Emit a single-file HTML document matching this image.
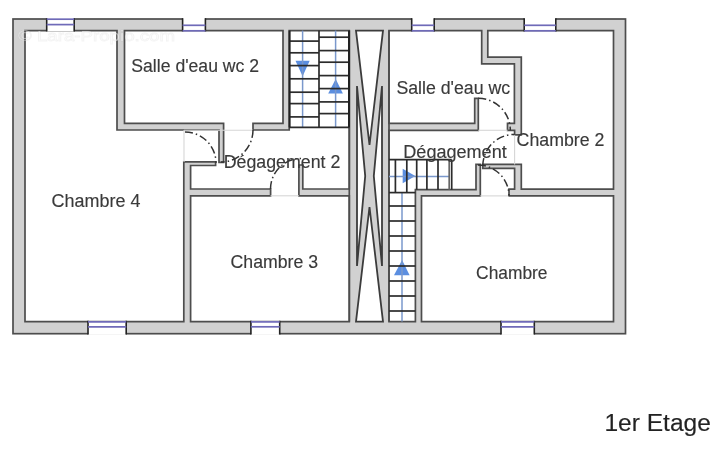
<!DOCTYPE html>
<html><head><meta charset="utf-8">
<style>
html,body{margin:0;padding:0;background:#fff;width:722px;height:450px;overflow:hidden}
svg{display:block;will-change:transform}
text{font-family:"Liberation Sans",sans-serif;fill:#3a3a3a;stroke:#3a3a3a;stroke-width:0.15}
</style></head><body>
<svg width="722" height="450" viewBox="0 0 722 450">
<rect x="0" y="0" width="722" height="450" fill="#fff"/>
<!-- outer wall -->
<rect x="13" y="19" width="612.5" height="314.7" fill="#d1d1d1" stroke="#4d4d4d" stroke-width="1.7"/>
<!-- left region -->
<path fill="#fff" stroke="#4d4d4d" stroke-width="1.7" stroke-linejoin="miter" d="
M25,30.6 L117,30.6 L117,130 L219,130 L219,162.4 L223.6,162.4 L223.6,123.3 L124.5,123.3 L124.5,30.6 L283,30.6 L283,123.3 L253,123.3 L253,130 L289.2,130 L289.2,30.6 L349.3,30.6
L349.3,189 L302.8,189 L302.8,165 L298.9,165 L298.9,195.8 L349.3,195.8 L349.3,321.6 L190.6,321.6 L190.6,195.8 L270.6,195.8 L270.6,189 L190.6,189 L190.6,165.5 L215.6,165.5 L215.6,161.8 L183.8,161.8 L183.8,321.6 L25,321.6 Z"/>
<!-- right region -->
<path fill="#fff" stroke="#4d4d4d" stroke-width="1.7" d="
M389,30.6 L481.7,30.6 L481.7,63.9 L514.4,63.9 L514.4,123.3 L507.5,123.3 L507.5,130.3 L514.6,130.3 L514.6,134.9 L521.3,134.9 L521.3,57.2 L487.8,57.2 L487.8,30.6 L613.5,30.6
L613.5,189.2 L521.3,189.2 L521.3,164.4 L482.8,164.4 L482.8,168.3 L514.6,168.3 L514.6,189.2 L509,189.2 L509,195.9 L613.5,195.9 L613.5,321.6
L421.5,321.6 L421.5,195.9 L480.3,195.9 L480.3,164.4 L476,164.4 L476,189.7 L415.4,189.7 L415.4,321.6 L389,321.6
L389,130.3 L478.3,130.3 L478.3,98.3 L474.7,98.3 L474.7,123.3 L389,123.3 Z"/>
<!-- thresholds -->
<g stroke="#d6d6d6" stroke-width="1.1">
<line x1="184" y1="130.2" x2="253" y2="130.2"/>
<line x1="184" y1="130" x2="184" y2="162"/>
<line x1="270.6" y1="195.8" x2="298.9" y2="195.8"/>
<line x1="478.3" y1="130.3" x2="507.5" y2="130.3"/>
<line x1="514.6" y1="134.9" x2="514.6" y2="164.4"/>
<line x1="480.3" y1="195.9" x2="509" y2="195.9"/>
</g>
<!-- shaft triangles -->
<g fill="#fff" stroke="#3c3c3c" stroke-width="1.8">
<polygon points="356,30.6 383,30.6 369.5,145"/>
<polygon points="356,321.6 383,321.6 369.5,207"/>
<polygon points="357,86 357,266 365.2,176"/>
<polygon points="382,86 382,266 373.8,176"/>
</g>
<line x1="349.3" y1="30.6" x2="349.3" y2="321.6" stroke="#4d4d4d" stroke-width="1.7"/>
<line x1="389" y1="30.6" x2="389" y2="321.6" stroke="#4d4d4d" stroke-width="1.7"/>

<!-- stairs A -->
<polygon points="295.5,60.8 309.7,60.8 302.6,76.3" fill="#5b8ee0"/>
<polygon points="328.2,93.4 342.9,93.4 335.7,79" fill="#5b8ee0"/>
<g stroke="#7a98cc" stroke-width="1.5">
<line x1="302.6" y1="30.6" x2="302.6" y2="127.3"/>
<line x1="335.6" y1="30.6" x2="335.6" y2="127.3"/>
</g>
<g stroke="#2b2b2b" stroke-width="1.7">
<line x1="289.2" y1="41.1" x2="319" y2="41.1"/>
<line x1="289.2" y1="52.8" x2="319" y2="52.8"/>
<line x1="289.2" y1="65.6" x2="319" y2="65.6"/>
<line x1="289.2" y1="78.8" x2="319" y2="78.8"/>
<line x1="289.2" y1="92.2" x2="319" y2="92.2"/>
<line x1="289.2" y1="103.6" x2="319" y2="103.6"/>
<line x1="289.2" y1="116.9" x2="319" y2="116.9"/>
<line x1="319" y1="37.2" x2="349.3" y2="37.2"/>
<line x1="319" y1="50.6" x2="349.3" y2="50.6"/>
<line x1="319" y1="62.2" x2="349.3" y2="62.2"/>
<line x1="319" y1="75.6" x2="349.3" y2="75.6"/>
<line x1="319" y1="88.6" x2="349.3" y2="88.6"/>
<line x1="319" y1="101.9" x2="349.3" y2="101.9"/>
<line x1="319" y1="113.6" x2="349.3" y2="113.6"/>
<line x1="319" y1="30.6" x2="319" y2="127.3"/>
<line x1="289.2" y1="127.3" x2="349.3" y2="127.3"/>
</g>
<line x1="289.6" y1="30.6" x2="289.6" y2="127.3" stroke="#222" stroke-width="2"/>
<line x1="349" y1="30.6" x2="349" y2="127.3" stroke="#222" stroke-width="2"/>

<!-- stairs B horizontal -->
<polygon points="402.7,168.7 402.7,183.3 415.3,176" fill="#5b8ee0"/>
<polygon points="394,275.3 409.6,275.3 402.1,260" fill="#5b8ee0"/>
<line x1="389" y1="176.4" x2="449" y2="176.4" stroke="#7a98cc" stroke-width="1.5"/>
<line x1="402" y1="192.6" x2="402" y2="321.6" stroke="#7a98cc" stroke-width="1.5"/>
<g stroke="#2b2b2b" stroke-width="1.7">
<line x1="389" y1="159.6" x2="451.7" y2="159.6"/>
<line x1="389" y1="192.6" x2="415.4" y2="192.6"/>
<line x1="395.4" y1="159.6" x2="395.4" y2="192.6"/>
<line x1="406.8" y1="159.6" x2="406.8" y2="192.6"/>
<line x1="416.7" y1="159.6" x2="416.7" y2="189.7"/>
<line x1="426.9" y1="159.6" x2="426.9" y2="189.7"/>
<line x1="438" y1="159.6" x2="438" y2="189.7"/>
<line x1="449.2" y1="159.6" x2="449.2" y2="189.7" stroke="#666"/>
<line x1="451.7" y1="159.6" x2="451.7" y2="189.7"/>
<line x1="389" y1="206" x2="415.4" y2="206"/>
<line x1="389" y1="221" x2="415.4" y2="221"/>
<line x1="389" y1="236" x2="415.4" y2="236"/>
<line x1="389" y1="251" x2="415.4" y2="251"/>
<line x1="389" y1="266" x2="415.4" y2="266"/>
<line x1="389" y1="281" x2="415.4" y2="281"/>
<line x1="389" y1="296" x2="415.4" y2="296"/>
<line x1="389" y1="311" x2="415.4" y2="311"/>
</g>

<!-- windows -->
<g fill="#fff">
<rect x="47" y="17.5" width="27" height="13.9"/>
<rect x="183" y="17.5" width="22" height="13.9"/>
<rect x="412" y="17.5" width="22" height="13.9"/>
<rect x="524.5" y="17.5" width="31" height="13.9"/>
<rect x="88.3" y="320.9" width="37.6" height="14"/>
<rect x="251.2" y="320.9" width="28.2" height="14"/>
<rect x="501.3" y="320.9" width="32.7" height="14"/>
</g>
<g stroke="#222" stroke-width="1.6">
<line x1="46.7" y1="18.2" x2="46.7" y2="31.4"/><line x1="74.2" y1="18.2" x2="74.2" y2="31.4"/>
<line x1="182.6" y1="18.2" x2="182.6" y2="31.4"/><line x1="205.4" y1="18.2" x2="205.4" y2="31.4"/>
<line x1="411.7" y1="18.2" x2="411.7" y2="31.4"/><line x1="434.2" y1="18.2" x2="434.2" y2="31.4"/>
<line x1="524.2" y1="18.2" x2="524.2" y2="31.4"/><line x1="555.8" y1="18.2" x2="555.8" y2="31.4"/>
<line x1="88" y1="320.8" x2="88" y2="334.5"/><line x1="126.2" y1="320.8" x2="126.2" y2="334.5"/>
<line x1="250.9" y1="320.8" x2="250.9" y2="334.5"/><line x1="279.7" y1="320.8" x2="279.7" y2="334.5"/>
<line x1="501" y1="320.8" x2="501" y2="334.5"/><line x1="534.3" y1="320.8" x2="534.3" y2="334.5"/>
</g>
<g stroke="#6f6ab8" stroke-width="1.7">
<line x1="46.7" y1="19.2" x2="74.2" y2="19.2"/><line x1="46.7" y1="24.6" x2="74.2" y2="24.6"/>
<line x1="182.6" y1="25.3" x2="205.4" y2="25.3"/><line x1="182.6" y1="30.8" x2="205.4" y2="30.8"/>
<line x1="411.7" y1="25.3" x2="434.2" y2="25.3"/><line x1="411.7" y1="30.8" x2="434.2" y2="30.8"/>
<line x1="524.2" y1="25.3" x2="555.8" y2="25.3"/><line x1="524.2" y1="30.8" x2="555.8" y2="30.8"/>
<line x1="88" y1="321.9" x2="126.2" y2="321.9"/><line x1="88" y1="326.8" x2="126.2" y2="326.8"/>
<line x1="250.9" y1="321.9" x2="279.7" y2="321.9"/><line x1="250.9" y1="326.8" x2="279.7" y2="326.8"/>
<line x1="501" y1="321.9" x2="534.3" y2="321.9"/><line x1="501" y1="326.8" x2="534.3" y2="326.8"/>
</g>

<!-- door arcs -->
<g fill="none" stroke="#333" stroke-width="1.5" stroke-dasharray="8 3 1.5 3">
<path d="M185,132 A31,31 0 0 1 216,163"/>
<path d="M253,130 A32,32 0 0 1 221,162"/>
<path d="M270.5,189 A30.5,30.5 0 0 1 301,158.5"/>
<path d="M478.3,98.3 A32,32 0 0 1 510.3,130.3"/>
<path d="M482.8,166 A31.6,31.6 0 0 1 514.4,134.4"/>
<path d="M478,165 A31,31 0 0 1 509,196"/>
</g>

<text x="18" y="41" font-size="15" textLength="157" lengthAdjust="spacingAndGlyphs" style="fill:#fff;fill-opacity:0.55;stroke:#999;stroke-opacity:0.12;stroke-width:0.8">© Lara-Propio.com</text>
<!-- labels -->
<text x="131.3" y="72.2" font-size="17.5" textLength="127.8" lengthAdjust="spacingAndGlyphs">Salle d'eau wc 2</text>
<text x="223.7" y="168.2" font-size="17.5" textLength="116.6" lengthAdjust="spacingAndGlyphs">Dégagement 2</text>
<text x="51.6" y="206.5" font-size="17.5" textLength="88.8" lengthAdjust="spacingAndGlyphs">Chambre 4</text>
<text x="230.6" y="267.7" font-size="17.5" textLength="87.5" lengthAdjust="spacingAndGlyphs">Chambre 3</text>
<text x="396.4" y="94.2" font-size="17.5" textLength="113.8" lengthAdjust="spacingAndGlyphs">Salle d'eau wc</text>
<text x="403.3" y="158.1" font-size="17.5" textLength="103.4" lengthAdjust="spacingAndGlyphs">Dégagement</text>
<text x="516.6" y="146.3" font-size="17.5" textLength="87.8" lengthAdjust="spacingAndGlyphs">Chambre 2</text>
<text x="476.1" y="279.2" font-size="17.5" textLength="71.4" lengthAdjust="spacingAndGlyphs">Chambre</text>
<text x="604.4" y="430.5" font-size="23" textLength="106.5" lengthAdjust="spacingAndGlyphs" style="fill:#222">1er Etage</text>
</svg>
</body></html>
